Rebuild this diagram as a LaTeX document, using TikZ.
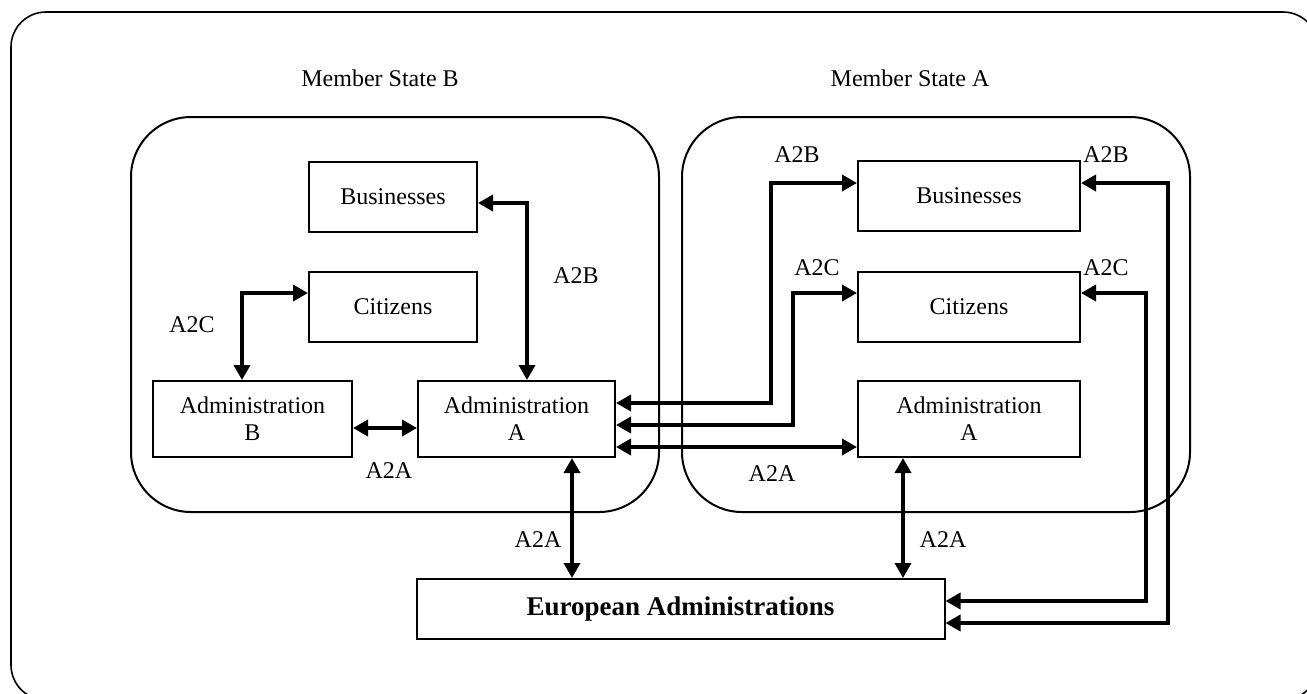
\documentclass[tikz,border=0pt]{standalone}
\usepackage{fontspec}
\setmainfont{Liberation Serif}
\usetikzlibrary{arrows.meta}

\tikzset{
  box/.style={draw, line width=1pt, align=center, inner sep=0pt},
  link/.style={{Triangle[length=7.5pt,width=8pt]}-{Triangle[length=7.5pt,width=8pt]}, line width=1.8pt},
  panel/.style={draw, line width=1pt, rounded corners=30pt},
  tag/.style={inner sep=0pt}
}

\begin{document}
\begin{tikzpicture}[x=0.5pt, y=-0.5pt, font=\fontsize{12}{13.5}\selectfont]
      \clip (0,0) rectangle (1307,693);
      \draw[line width=0.8pt, rounded corners=17.5pt] (11,12) rectangle (1318,700);

      \node[tag] (msB) at (380,78) {Member State B};
      \node[tag] (msA) at (910,78) {Member State A};
      \draw[panel] (131,117) rectangle (659,512);
      \draw[panel] (682,117) rectangle (1190,512);

      \node[box, minimum width=84pt, minimum height=35pt] (busB) at (393,197) {Businesses};
      \node[box, minimum width=84pt, minimum height=35pt] (citB) at (393,307) {Citizens};
      \node[box, minimum width=99.5pt, minimum height=38pt] (admBB) at (252.5,419) {Administration\\B};
      \node[box, minimum width=98.5pt, minimum height=38pt] (admAL) at (516.5,419) {Administration\\A};

      \node[box, minimum width=111pt, minimum height=35pt] (busA) at (969,196) {Businesses};
      \node[box, minimum width=111pt, minimum height=35pt] (citA) at (969,307) {Citizens};
      \node[box, minimum width=111pt, minimum height=38pt] (admAR) at (969,419) {Administration\\A};

      \node[box, minimum width=264pt, minimum height=30pt, font=\fontsize{13.5}{15}\selectfont\bfseries] (euro) at (680.5,609) {European Administrations};

      \draw[link] (citB.west |- 0,293) -| (admBB.north -| 242,0);
      \draw[link] (admBB.east |- 0,428) -- (admAL.west |- 0,428);
      \draw[link] (busB.east |- 0,203) -| (admAL.north -| 527,0);

      \draw[link] (admAL.east |- 0,403) -| (771,183) -- (busA.west |- 0,183);
      \draw[link] (admAL.east |- 0,425) -| (793,293) -- (citA.west |- 0,293);
      \draw[link] (admAL.east |- 0,447) -- (admAR.west |- 0,447);

      \draw[link] (admAL.south -| 572,0) -- (euro.north -| 572,0);
      \draw[link] (admAR.south -| 903,0) -- (euro.north -| 903,0);

      \draw[link] (busA.east |- 0,183) -| (1168,623) -- (euro.east |- 0,623);
      \draw[link] (citA.east |- 0,293) -| (1146,601) -- (euro.east |- 0,601);

      \node[tag] (lblA2CB) at (192,325) {A2C};
      \node[tag] (lblA2BB) at (576,276) {A2B};
      \node[tag] (lblA2AB) at (389,471) {A2A};
      \node[tag] (lblA2Bm) at (797,155) {A2B};
      \node[tag] (lblA2Cm) at (817,268) {A2C};
      \node[tag] (lblA2Am) at (772,474) {A2A};
      \node[tag] (lblA2Br) at (1106,155) {A2B};
      \node[tag] (lblA2Cr) at (1106,268) {A2C};
      \node[tag] (lblA2Ae) at (538,540) {A2A};
      \node[tag] (lblA2Ar) at (943,540) {A2A};
\end{tikzpicture}
\end{document}
